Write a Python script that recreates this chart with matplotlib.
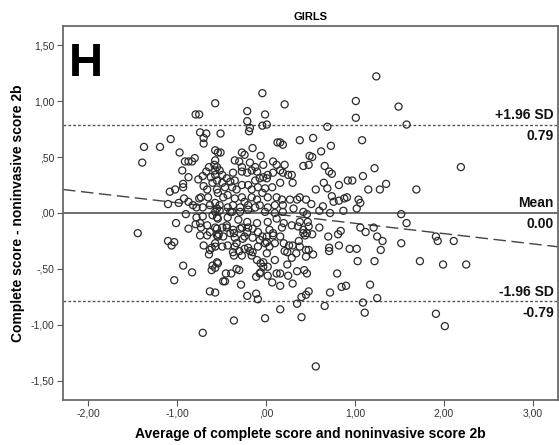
import numpy as np
from matplotlib import pyplot as plt

# Bland-Altman plot, girls (panel H)
# mean of the two scores (x) and their difference (y)
avg = [
    # upper part, far left
    -1.39, -1.37, -1.19, -1.07, -0.79, -0.75, -0.57, -0.04, -0.21, -0.01, -0.21, -0.18, -0.19, -0.04, 0.01,
    -0.74, -0.67, -0.70, -0.70, -0.51, -0.15, 0.13,
    # upper right
    1.24, 0.21, 1.01, 1.01, 1.49, 1.58, 0.69, 0.38, 0.53, 1.08, 0.73, 0.62, 0.49, 0.52, 0.42, 0.48, 0.66,
    1.22, 2.19, 0.71, 0.74, 1.09, 0.92, 0.97, 0.65, 0.82, 1.15, 1.28, 1.35, 1.69, 0.56, 0.69, 0.74, 0.88,
    0.91, 0.76, 0.82, 1.04, 1.06, 1.02, 0.27, 0.35, 0.38, 0.45, 0.51, 0.31, 0.42, 0.46, 0.60, 0.64, 0.72,
    0.87, 1.52, 0.16, 0.19, 0.25, 0.29, 0.16, 0.30, 0.21, 0.16, 0.19, 0.18, 0.19, 0.19,
    # lower right
    1.58, 1.06, 1.12, 1.21, 1.25, 1.31, 1.52, 1.91, 1.93, 2.11, 0.70, 0.81, 0.84, 0.71, 0.71, 0.82, 0.94,
    1.02, 1.29, 1.03, 1.22, 1.73, 1.99, 2.25, 0.80, 0.85, 0.90, 1.17, 0.72, 1.25, 1.09, 1.11, 0.66, 1.91,
    2.01, 0.56, 0.40, 0.35, 0.40, 0.45, 0.48, 0.16, 0.30, 0.35, 0.43, 0.46, 0.24, 0.25, 0.16, 0.16, 0.29,
    0.34, 0.45, 0.45, 0.48, 0.53, 0.21, 0.24, 0.30, 0.20, 0.26, 0.38, 0.37, 0.42, 0.46, 0.52, 0.60, 0.48,
    0.20, 0.29, 0.36, 0.42, 0.44, 0.38, 0.47, 0.16, 0.18,
    # lower left
    -1.44, -1.10, -1.03, -1.06, -1.01, -0.87, -0.93, -0.83, -1.03, -0.63, -0.71, -0.36, -0.01, -0.61, -0.54,
    -0.60, -0.46, -0.45, -0.39, -0.33, -0.30, -0.28, -0.21, -0.11, -0.09, -0.11, -0.06, 0.02, -0.64, -0.63,
    -0.57, -0.70, -0.74, -0.66, -0.63, -0.79, -0.74, -0.66, -0.55, -0.53, -0.44, -0.36, -0.29, -0.21, -0.15,
    -0.49, -0.43, -0.37, -0.36, -0.30, -0.24, -0.18, -0.16, -0.10, -0.06, -0.03, 0.01, 0.04, -0.01, 0.10,
    0.12, -0.07, 0.01, 0.08, -0.15, -0.26, -0.33,
    -0.90, -0.78, -0.71, -0.73, -0.60, -0.55, -0.61, -0.57, -0.54,
    -0.57, -0.52, -0.40, -0.29, -0.20, -0.01, 0.10,
    -0.54, -0.43, -0.31, -0.21, -0.10, 0.02, 0.12,
    -0.57, -0.49, -0.44, -0.37, -0.27, -0.20, -0.09, 0.04, 0.08,
    -0.55, -0.48, -0.40, -0.35, -0.24, -0.04, 0.01, 0.10,
    -0.35, -0.20, -0.15, -0.09, -0.27, -0.03, 0.02,
    -0.55, -0.57, -0.48, -0.07, 0.07, -0.57,
    # centre, above the mean
    -0.97, -0.91, -0.87, -0.83, -0.80, -0.94, -0.87, -0.76, -0.71, -0.67, -0.64, -0.58, -0.93, -0.93, -1.02,
    -1.08, -1.10, -0.98, -0.92, -0.87, -0.82, -0.75, -0.73, -0.65, -0.66, -0.70, -0.78, -0.71, -0.63, -0.57,
    -0.55, -0.62, -0.57, -0.55, -0.60, -0.55, -0.57,
    -0.57, -0.54, -0.51, -0.27, -0.24, -0.06, -0.35, -0.30, -0.18, -0.27, -0.12, -0.03, 0.08, 0.12, -0.57,
    -0.55, -0.52, -0.49, -0.37, -0.44, -0.40, -0.35, -0.27, -0.21, -0.16, -0.10, -0.12, -0.07, -0.03, 0.01,
    0.02, 0.08,
    -0.49, -0.46, -0.38, -0.33, -0.27, -0.20, -0.16, -0.09, -0.01, 0.07,
    -0.54, -0.48, -0.43, -0.35, -0.27, -0.24, -0.16, -0.10, -0.04, 0.02, 0.12,
    -0.52, -0.43, -0.37, -0.29, -0.20, -0.12, -0.07, 0.02, 0.10, -0.38,
]
diff = [
    0.45, 0.59, 0.59, 0.66, 0.88, 0.88, 0.98, 1.07, 0.91, 0.88, 0.82, 0.76, 0.73, 0.78, 0.79,
    0.72, 0.71, 0.67, 0.62, 0.71, 0.58, 0.63,
    1.22, 0.97, 1.00, 0.85, 0.95, 0.79, 0.77, 0.65, 0.67, 0.65, 0.60, 0.55, 0.51, 0.50, 0.42, 0.43, 0.42,
    0.40, 0.41, 0.37, 0.35, 0.33, 0.29, 0.29, 0.27, 0.25, 0.21, 0.21, 0.26, 0.21, 0.21, 0.22, 0.15, 0.13,
    0.14, 0.10, 0.11, 0.12, 0.09, 0.04, 0.12, 0.12, 0.14, 0.12, 0.08, 0.04, 0.01, -0.01, 0.02, 0.06, 0.00,
    0.02, -0.01, 0.38, 0.36, 0.34, 0.34, 0.27, 0.27, 0.43, 0.63, 0.61, 0.12, 0.07, 0.01,
    -0.09, -0.13, -0.17, -0.13, -0.21, -0.25, -0.27, -0.21, -0.25, -0.25, -0.21, -0.19, -0.16, -0.31, -0.34, -0.29, -0.32,
    -0.32, -0.33, -0.43, -0.43, -0.43, -0.46, -0.46, -0.54, -0.66, -0.65, -0.64, -0.71, -0.76, -0.80, -0.89, -0.83, -0.90,
    -1.01, -1.37, -0.93, -0.81, -0.75, -0.73, -0.70, -0.86, -0.63, -0.52, -0.51, -0.54, -0.46, -0.56, -0.54, -0.65, -0.40,
    -0.36, -0.39, -0.33, -0.33, -0.37, -0.34, -0.35, -0.29, -0.27, -0.29, -0.30, -0.25, -0.18, -0.18, -0.19, -0.13, -0.12,
    -0.09, -0.11, -0.12, -0.15, -0.20, -0.08, -0.08, -0.21, -0.13,
    -0.18, -0.25, -0.26, -0.29, -0.09, -0.14, -0.47, -0.53, -0.60, -0.70, -1.07, -0.96, -0.94, -0.51, -0.45,
    -0.47, -0.61, -0.54, -0.54, -0.50, -0.51, -0.64, -0.74, -0.72, -0.77, -0.57, -0.53, -0.56, -0.37, -0.33,
    -0.30, -0.29, -0.20, -0.20, -0.17, -0.10, -0.09, -0.11, -0.14, -0.19, -0.13, -0.18, -0.14, -0.17, -0.14,
    -0.30, -0.29, -0.35, -0.38, -0.34, -0.32, -0.34, -0.38, -0.42, -0.45, -0.48, -0.36, -0.30, -0.27, -0.42,
    -0.54, -0.24, -0.21, -0.18, -0.22, -0.23, -0.27,
    -0.01, -0.04, -0.03, -0.13, -0.02, -0.04, -0.31, -0.27, -0.21,
    0.01, 0.02, 0.01, 0.01, 0.03, 0.01, 0.00,
    -0.05, -0.04, -0.06, -0.08, -0.09, -0.08, -0.05,
    -0.13, -0.13, -0.11, -0.15, -0.13, -0.13, -0.17, -0.15, -0.20,
    -0.20, -0.21, -0.18, -0.22, -0.21, -0.21, -0.26, -0.27,
    -0.30, -0.31, -0.35, -0.30, -0.38, -0.44, -0.48,
    -0.44, -0.49, -0.61, -0.54, -0.62, -0.71,
    0.54, 0.46, 0.46, 0.46, 0.49, 0.38, 0.32, 0.30, 0.33, 0.37, 0.41, 0.43, 0.26, 0.23, 0.21,
    0.19, 0.08, 0.09, 0.13, 0.10, 0.07, 0.13, 0.14, 0.14, 0.21, 0.24, 0.05, 0.05, 0.07, 0.09,
    0.04, 0.32, 0.34, 0.29, 0.27, 0.21, 0.38,
    0.56, 0.54, 0.54, 0.54, 0.52, 0.51, 0.47, 0.46, 0.45, 0.41, 0.41, 0.43, 0.46, 0.43, 0.47,
    0.41, 0.38, 0.34, 0.36, 0.31, 0.28, 0.29, 0.37, 0.36, 0.38, 0.37, 0.29, 0.31, 0.32, 0.31,
    0.34, 0.36,
    0.27, 0.23, 0.23, 0.21, 0.25, 0.25, 0.21, 0.23, 0.22, 0.23,
    0.18, 0.14, 0.16, 0.13, 0.14, 0.10, 0.14, 0.12, 0.18, 0.14, 0.14,
    0.07, 0.05, 0.07, 0.05, 0.07, 0.05, 0.07, 0.05, 0.07, 0.01,
]

mean_diff = 0.00
loa_upper = 0.79
loa_lower = -0.79
# regression of difference on average (dashed line)
fit_intercept = 0.0
fit_slope = -0.092

xticks = [-2, -1, 0, 1, 2, 3]
xtick_labels = ['-2,00', '-1,00', ',00', '1,00', '2,00', '3,00']
yticks = [1.5, 1.0, 0.5, 0.0, -0.5, -1.0, -1.5]
ytick_labels = ['1,50', '1,00', ',50', ',00', '-,50', '-1,00', '-1,50']

plt.rcParams['font.family'] = ['Liberation Sans', 'DejaVu Sans']

fig = plt.figure(figsize=(5.59, 4.45), dpi=100)
ax = fig.add_axes([0.1127, 0.1011, 0.8853, 0.8405])

xlim = (-2.28, 3.28)
ylim = (-1.67, 1.67)

ax.axhline(mean_diff, color='#555555', lw=1.2, zorder=1)
ax.axhline(loa_upper, color='#555555', lw=1.0, ls=(0, (2, 1.5)), zorder=1)
ax.axhline(loa_lower, color='#555555', lw=1.0, ls=(0, (2, 1.5)), zorder=1)

xs = np.array(xlim)
ax.plot(xs, fit_intercept + fit_slope * xs, color='#444444', lw=1.0,
        ls=(0, (9, 4)), zorder=1)

ax.scatter(avg, diff, s=26, facecolors='none', edgecolors='#2b2b2b',
           linewidths=0.9, zorder=2)

ax.set_xlim(*xlim)
ax.set_ylim(*ylim)
ax.set_xticks(xticks)
ax.set_xticklabels(xtick_labels)
ax.set_yticks(yticks)
ax.set_yticklabels(ytick_labels)
ax.tick_params(labelsize=7.5, labelcolor='#333333', length=4, width=0.8,
               color='#555555', pad=2)

for sp in ax.spines.values():
    sp.set_color('#6a6a6a')
    sp.set_linewidth(1.3)

# reference line labels on the right
lab = dict(ha='right', fontsize=10, fontweight='bold', color='#111111',
           transform=ax.get_yaxis_transform())
ax.text(0.992, loa_upper + 0.025, '+1.96 SD', va='bottom', **lab)
ax.text(0.992, loa_upper - 0.04, '%.2f' % loa_upper, va='top', **lab)
ax.text(0.992, mean_diff + 0.025, 'Mean', va='bottom', **lab)
ax.text(0.992, mean_diff - 0.04, '%.2f' % mean_diff, va='top', **lab)
ax.text(0.992, loa_lower + 0.025, '-1.96 SD', va='bottom', **lab)
ax.text(0.992, loa_lower - 0.04, '%.2f' % loa_lower, va='top', **lab)

ax.text(0.012, 0.958, 'H', transform=ax.transAxes, ha='left', va='top',
        fontsize=34, fontweight='bold', color='black')

ax.set_title('GIRLS', fontsize=8, fontweight='bold', pad=4)
ax.set_xlabel('Average of complete score and noninvasive score 2b',
              fontsize=10, fontweight='bold', labelpad=6)
ax.set_ylabel('Complete score - noninvasive score 2b', fontsize=10,
              fontweight='bold', labelpad=4)

fig.savefig('out.png', dpi=100)
